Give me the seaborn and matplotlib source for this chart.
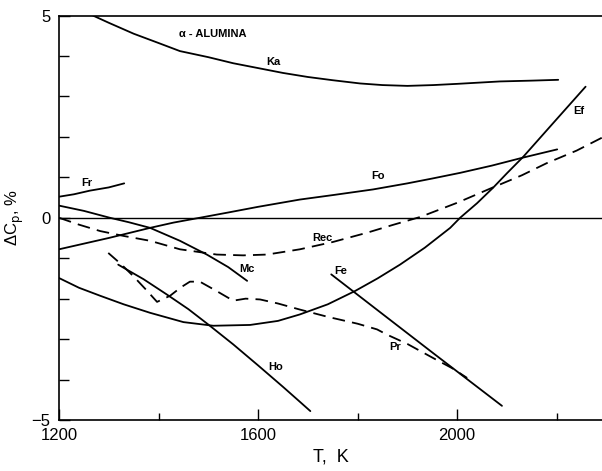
import matplotlib
matplotlib.use("Agg")
import matplotlib.pyplot as plt
import seaborn as sns
import pandas as pd
from matplotlib.ticker import MultipleLocator, FixedLocator

# curves (T in K, delta Cp in %)
ka_t = [1268, 1300, 1350, 1400, 1443, 1500, 1550, 1600, 1650, 1700, 1750, 1805, 1850, 1900, 1952, 2000, 2086, 2150, 2203]
ka_y = [5.0, 4.82, 4.55, 4.32, 4.12, 3.97, 3.82, 3.70, 3.58, 3.48, 3.40, 3.32, 3.28, 3.26, 3.28, 3.31, 3.37, 3.39, 3.41]

fr_t = [1200, 1230, 1262, 1300, 1331]
fr_y = [0.52, 0.58, 0.67, 0.75, 0.85]

fo_t = [1200, 1250, 1300, 1340, 1383, 1430, 1483, 1540, 1600, 1684, 1750, 1831, 1900, 1950, 2006, 2070, 2130, 2201]
fo_y = [-0.78, -0.64, -0.50, -0.38, -0.25, -0.12, 0.0, 0.13, 0.27, 0.45, 0.56, 0.70, 0.85, 0.97, 1.11, 1.29, 1.48, 1.69]

mc_t = [1200, 1250, 1302, 1340, 1383, 1443, 1497, 1540, 1578]
mc_y = [0.30, 0.17, 0.0, -0.11, -0.25, -0.57, -0.91, -1.22, -1.56]

rec_t = [1200, 1240, 1283, 1330, 1383, 1443, 1517, 1570, 1618, 1684, 1750, 1819, 1870, 1926, 2000, 2070, 2130, 2180, 2240, 2291]
rec_y = [0.0, -0.17, -0.33, -0.45, -0.57, -0.78, -0.91, -0.93, -0.91, -0.78, -0.60, -0.37, -0.18, 0.02, 0.37, 0.74, 1.05, 1.35, 1.66, 1.98]

ef_t = [1200, 1240, 1283, 1330, 1383, 1450, 1510, 1584, 1640, 1684, 1740, 1795, 1840, 1885, 1935, 1986, 2006, 2040, 2072, 2100, 2133, 2190, 2258]
ef_y = [-1.49, -1.73, -1.93, -2.14, -2.35, -2.58, -2.67, -2.65, -2.55, -2.39, -2.14, -1.81, -1.50, -1.16, -0.74, -0.25, 0.0, 0.36, 0.74, 1.10, 1.51, 2.30, 3.24]

ho_t = [1319, 1370, 1417, 1460, 1500, 1550, 1600, 1650, 1684, 1705]
ho_y = [-1.16, -1.52, -1.90, -2.26, -2.64, -3.13, -3.65, -4.18, -4.55, -4.78]

pr_t = [1299, 1325, 1349, 1375, 1397, 1423, 1445, 1463, 1483, 1515, 1550, 1575, 1604, 1640, 1684, 1740, 1800, 1839, 1859, 1900, 1952, 1990, 2020]
pr_y = [-0.87, -1.15, -1.44, -1.78, -2.08, -1.93, -1.72, -1.58, -1.58, -1.80, -2.05, -2.00, -2.02, -2.12, -2.27, -2.45, -2.62, -2.76, -2.89, -3.12, -3.47, -3.72, -3.96]

fe_t = [1747, 1850, 1950, 2090]
fe_y = [-1.40, -2.38, -3.33, -4.65]

curves = [
    ("Ka", ka_t, ka_y, "-"),
    ("Fr", fr_t, fr_y, "-"),
    ("Fo", fo_t, fo_y, "-"),
    ("Mc", mc_t, mc_y, "-"),
    ("Rec", rec_t, rec_y, "--"),
    ("Ef", ef_t, ef_y, "-"),
    ("Ho", ho_t, ho_y, "-"),
    ("Pr", pr_t, pr_y, "--"),
    ("Fe", fe_t, fe_y, "-"),
]

# label positions in data coords
label_pos = {
    "Ka": (1630, 3.85), "Fr": (1255, 0.86), "Fo": (1840, 1.03), "Rec": (1730, -0.50),
    "Mc": (1577, -1.27), "Fe": (1765, -1.32), "Ho": (1635, -3.7), "Pr": (1875, -3.2),
    "Ef": (2245, 2.65),
}

sns.set_style("ticks")
plt.rcParams["font.family"] = ["Liberation Sans", "DejaVu Sans"]
for key in ["text.color", "axes.labelcolor", "xtick.color", "ytick.color", "axes.edgecolor"]:
    plt.rcParams[key] = "black"

fig = plt.figure(figsize=(6.02, 4.71), dpi=100)
ax = fig.add_axes([59 / 602, 1 - 420 / 471, 1 - 59 / 602, (420 - 15.5) / 471])

for name, t, y, ls in curves:
    df = pd.DataFrame({"T": t, "dCp": y})
    line_style = (0, (7, 4)) if ls == "--" else "-"
    sns.lineplot(data=df, x="T", y="dCp", ax=ax, color="black", lw=1.3,
                 linestyle=line_style, sort=False, estimator=None)

ax.axhline(0, color="black", lw=1.0)

for name, (tx, ty) in label_pos.items():
    ax.text(tx, ty, name, fontsize=8, fontweight="bold", ha="center", va="center")

ax.text(1508, 4.55, "α - ALUMINA", fontsize=8, fontweight="bold", ha="center", va="center")

ax.set_xlim(1200, 2291)
ax.set_ylim(-5, 5)
ax.xaxis.set_major_locator(FixedLocator([1200, 1600, 2000]))
ax.xaxis.set_minor_locator(FixedLocator([1400, 1800, 2200]))
ax.yaxis.set_major_locator(FixedLocator([-5, 0, 5]))
ax.yaxis.set_minor_locator(MultipleLocator(1))
ax.set_yticklabels(["−5", "0", "5"])
ax.tick_params(which="major", direction="in", length=8, width=1, labelsize=12, pad=6)
ax.tick_params(which="minor", direction="in", length=5, width=1)
ax.tick_params(axis="y", which="minor", length=7)

for side in ["left", "bottom", "top"]:
    ax.spines[side].set_linewidth(1.2)
ax.spines["right"].set_visible(False)

ax.set_xlabel("T,  K", fontsize=13, labelpad=4)
ax.set_ylabel("ΔC$_\\mathrm{p}$, %", fontsize=12, labelpad=4)
ax.set_facecolor("white")

fig.savefig("out.png", dpi=100, facecolor="white")
